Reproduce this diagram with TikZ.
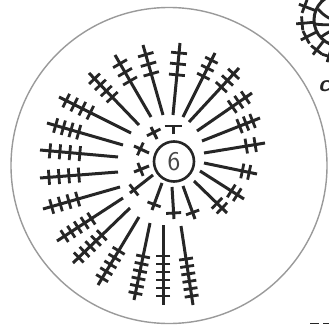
\documentclass[tikz,border=0pt]{standalone}
\usepackage{xcolor}
\usepackage{tikz}
\usetikzlibrary{calc}
\definecolor{ringgray}{HTML}{9A9A9A}
\definecolor{inkblack}{HTML}{262626}
\begin{document}
\begin{tikzpicture}[
  x=1pt, y=-1pt,
  ring/.style={draw=ringgray, line width=1.4pt},
  stem/.style={draw=inkblack, line width=3pt},
  bar/.style={draw=inkblack, line width=2.8pt},
  sixlabel/.style={circle, draw=inkblack, line width=2.6pt, minimum size=40pt, inner sep=0pt, font=\fontsize{27}{27}\selectfont\sffamily, text=inkblack!85},
  letter/.style={font=\fontsize{23}{23}\selectfont\sffamily\itshape\bfseries, text=inkblack, inner sep=0pt}
]
\useasboundingbox (0,0) rectangle (329,324);
\fill[white] (0,0) rectangle (329,324);
\draw[ring] (169,165.5) circle (158);
\node[sixlabel] (six) at (174,161.5) {6};

% spokes: inner x/y, outer x/y, number of bars, first bar, gap, half width
\foreach \ax/\ay/\bx/\by/\n/\first/\gap/\w in {
  118/157/40/150/4/10/10/7.5, 123/145/47/123/4/9/8/7.5, 131/133/59/97/4/8/9/7.5,
  139/125/89/73/4/8/8.5/7.5, 151/117/115/55/3/10/10/8, 163/115/143/45/3/10/10/8,
  173/115/180/43/3/10/11/8, 183/117/215/53/3/8/9/7, 189/122/239/68/3/8/9/7.5,
  197/131/252/93/3/8/8/7.5, 202/141/260/118/3/8/7/7.5, 204/153/265/143/2/10/9/7.5,
  204/163/257/174/2/8/7/7.5, 200/171/244/199/2/8/7/7.5, 194/181/227/213/2/7/7/7.5,
  183/186/195/219/1/7/0/7, 172/187/174/219/1/6/0/7.5, 181/226/193/305/6/9/7.5/7,
  163/225/163/305/6/9/8/7, 150/223/134/300/6/7/7.5/7, 139/217/98/285/5/8/8/7,
  130/208/73/263/5/8/8/7, 123/198/57/241/5/9/8/7, 120/187/43/209/4/9/9/7.5,
  118/172/40/178/4/9/10/7.5, 153/175/130/193/1/5/0/7, 162/183/152/210/1/6/0/7,
  149/166/134/172/1/7/0/7, 149/153/134/146/1/7/0/7, 157/139/151/127/1/6/0/7.5,
  173/134/173/125/1/1/0/8.5} {
  \coordinate (inner) at (\ax,\ay);
  \coordinate (outer) at (\bx,\by);
  \draw[stem] (inner) -- (outer);
  \foreach \k in {1,...,\n} {
    \pgfmathsetmacro{\d}{\first+(\k-1)*\gap}
    \coordinate (tick) at ($(outer)!\d pt!(inner)$);
    \draw[bar] ($(tick)!\w pt!90:(outer)$) -- ($(tick)!\w pt!-90:(outer)$);
  }
}

% piece of the next chart, cut by the page edge
\begin{scope}
\clip (0,0) rectangle (329,324);
\draw[stem] (340,20) circle (26);
\foreach \ang in {107,128,153,175,201,228} {
  \draw[bar] (340,20) ++(\ang:26) -- ++(\ang:18);
  \draw[bar] (340,20) ++(\ang:38) ++(\ang+90:7) -- ++(\ang+90:-14);
}
\draw[bar] (318,9) .. controls (325,17) and (331,20) .. (340,21);
\draw[bar] (315,24) .. controls (322,25) and (331,25) .. (340,24);
\draw[bar] (320,38) .. controls (326,33) and (332,30) .. (340,28);
\end{scope}
\node[letter] (clabel) at (324,86) {c};

% tops of the letters under the page edge
\draw[stem, line width=1.8pt] (310,323.5) -- (319,323.5);
\draw[stem, line width=1.8pt] (323,323.5) -- (329,323.5);
\end{tikzpicture}
\end{document}
